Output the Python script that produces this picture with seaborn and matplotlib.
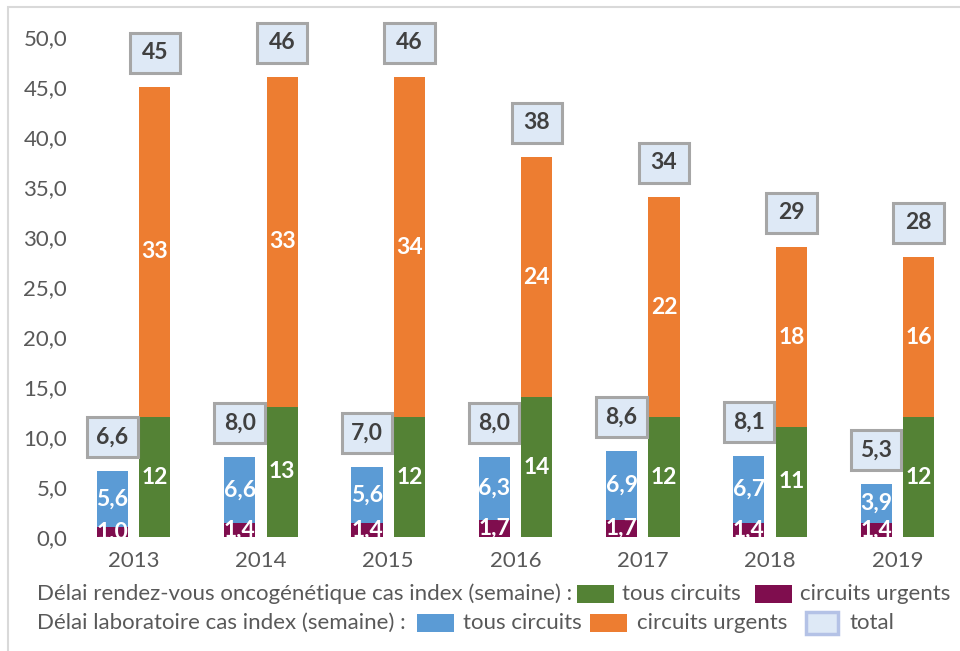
import matplotlib
matplotlib.use("Agg")
import matplotlib.pyplot as plt
from matplotlib.patches import Rectangle
from matplotlib.path import Path
import seaborn as sns
import pandas as pd

# Délais en semaines, par année
years = ["2013", "2014", "2015", "2016", "2017", "2018", "2019"]
rdv_urgents = [1.0, 1.4, 1.4, 1.7, 1.7, 1.4, 1.4]      # rendez-vous, circuits urgents
labo_tous = [5.6, 6.6, 5.6, 6.3, 6.9, 6.7, 3.9]        # laboratoire, tous circuits
rdv_tous = [12, 13, 12, 14, 12, 11, 12]                # rendez-vous, tous circuits
labo_urgents = [33, 33, 34, 24, 22, 18, 16]            # laboratoire, circuits urgents
yticks = [0, 5, 10, 15, 20, 25, 30, 35, 40, 45, 50]

C_GREEN = "#548235"
C_PURPLE = "#7f0d4e"
C_BLUE = "#5b9bd5"
C_ORANGE = "#ed7d31"
C_BOX = "#dee9f6"
C_BOX_EDGE = "#a6a6a6"
C_TEXT = "#595959"
C_LABEL = "#404040"

sns.set_style("white")
plt.rcParams["font.family"] = ["Lato", "DejaVu Sans"]

left_total = [round(a + b, 1) for a, b in zip(rdv_urgents, labo_tous)]
right_total = [a + b for a, b in zip(rdv_tous, labo_urgents)]

n = len(years)
back = pd.DataFrame({"annee": years * 2,
                     "pos": ["g"] * n + ["d"] * n,
                     "valeur": left_total + right_total})
front = pd.DataFrame({"annee": years * 2,
                      "pos": ["g"] * n + ["d"] * n,
                      "valeur": rdv_urgents + rdv_tous})

W, H = 960, 651
fig = plt.figure(figsize=(W / 100, H / 100), dpi=100)
ax = fig.add_axes([70 / W, 114 / H, 891 / W, 500 / H])

common = dict(x="annee", y="valeur", hue="pos", hue_order=["g", "d"],
              order=years, dodge=True, width=0.668, gap=0.267,
              saturation=1, linewidth=0, legend=False, ax=ax)
# full stack height drawn first, bottom segment drawn over it
sns.barplot(data=back, palette={"g": C_BLUE, "d": C_ORANGE}, **common)
sns.barplot(data=front, palette={"g": C_PURPLE, "d": C_GREEN}, **common)

ax.set_ylim(0, 50)
ax.set_xlim(-0.5, n - 0.5)
ax.set_yticks(yticks)
ax.set_yticklabels([f"{t:.1f}".replace(".", ",") for t in yticks])
ax.set_xlabel("")
ax.set_ylabel("")
ax.tick_params(axis="both", length=0, labelsize=16, labelcolor=C_TEXT)
ax.tick_params(axis="y", pad=2)
ax.tick_params(axis="x", pad=10)
for s in ax.spines.values():
    s.set_visible(False)
ax.grid(False)


def fr(v):
    return f"{v:.1f}".replace(".", ",")


def fixed_box(x0, y0, width, height, mutation_size):
    # box of constant size centred on the label
    cx = x0 + width / 2
    cy = y0 + height / 2
    bw = 2.2 * mutation_size
    bh = 1.72 * mutation_size
    l, r = cx - bw / 2, cx + bw / 2
    b, t = cy - bh / 2, cy + bh / 2
    return Path([(l, b), (r, b), (r, t), (l, t), (l, b)], closed=True)


bars_left_back, bars_right_back, bars_left_front, bars_right_front = ax.containers[:4]

lab = dict(ha="center", va="center", color="white", fontsize=16.5, fontweight="bold")
for i in range(n):
    xl = bars_left_front[i].get_x() + bars_left_front[i].get_width() / 2
    xr = bars_right_front[i].get_x() + bars_right_front[i].get_width() / 2
    ax.text(xl, rdv_urgents[i] / 2, fr(rdv_urgents[i]), **lab)
    ax.text(xl, rdv_urgents[i] + labo_tous[i] / 2, fr(labo_tous[i]), **lab)
    ax.text(xr, rdv_tous[i] / 2, f"{rdv_tous[i]:d}", **lab)
    ax.text(xr, rdv_tous[i] + labo_urgents[i] / 2, f"{labo_urgents[i]:d}", **lab)

    box = dict(boxstyle=fixed_box, fc=C_BOX, ec=C_BOX_EDGE, lw=2.2)
    ax.annotate(fr(left_total[i]), (xl, left_total[i]), xytext=(0, 24.5),
                textcoords="offset points", ha="center", va="center",
                fontsize=16.5, fontweight="bold", color=C_LABEL, bbox=box,
                annotation_clip=False)
    ax.annotate(f"{right_total[i]:d}", (xr, right_total[i]), xytext=(0, 24.5),
                textcoords="offset points", ha="center", va="center",
                fontsize=16.5, fontweight="bold", color=C_LABEL, bbox=box,
                annotation_clip=False)

# outer frame of the chart area
fig.add_artist(Rectangle((8 / W, -0.05), 1.0, 644 / H + 0.05,
                         transform=fig.transFigure, fill=False,
                         ec="#d9d9d9", lw=1.5))

# legend, two rows
def fx(px):
    return px / W


def fy(py):
    return 1 - py / H


leg_txt = dict(fontsize=16, color=C_TEXT, va="center", ha="left")
row1, row2 = 594, 623
fig.text(fx(37), fy(row1), "Délai rendez-vous oncogénétique cas index (semaine) :", **leg_txt)
fig.text(fx(37), fy(row2), "Délai laboratoire cas index (semaine) :", **leg_txt)

legend_items = [
    (577, row1, C_GREEN, "tous circuits", 622),
    (755, row1, C_PURPLE, "circuits urgents", 800),
    (417, row2, C_BLUE, "tous circuits", 463),
    (590, row2, C_ORANGE, "circuits urgents", 637),
]
for x0, yc, col, txt, tx in legend_items:
    fig.add_artist(Rectangle((fx(x0), fy(yc + 9)), 37 / W, 18 / H,
                             transform=fig.transFigure, fc=col, ec="none"))
    fig.text(fx(tx), fy(yc), txt, **leg_txt)
fig.add_artist(Rectangle((fx(806), fy(row2 + 11)), 32 / W, 22 / H,
                         transform=fig.transFigure, fc=C_BOX, ec="#b4c2e6", lw=2.5))
fig.text(fx(850), fy(row2), "total", **leg_txt)

fig.savefig("out.png", dpi=100)
